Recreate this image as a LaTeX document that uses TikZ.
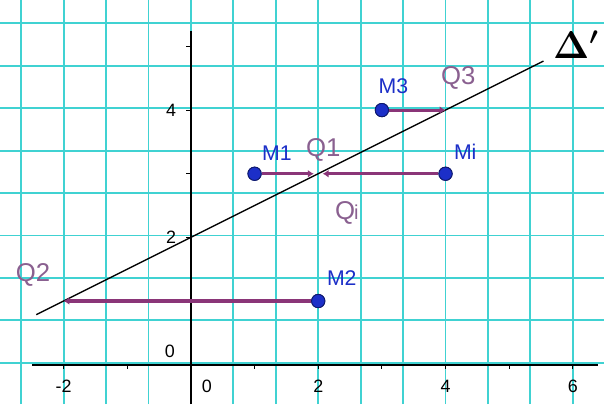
\documentclass[tikz,border=0pt]{standalone}
\usepackage{fontspec}
\setmainfont{Liberation Sans}
\usepackage{tikz}
\usetikzlibrary{arrows.meta}
\definecolor{gridc}{HTML}{40D2D2}
\definecolor{ptblue}{HTML}{1C2FC8}
\definecolor{segc}{HTML}{8A3578}
\definecolor{qlab}{HTML}{8A6090}
\tikzset{
  gridline/.style={draw=gridc, line width=0.85pt},
  axisline/.style={draw=black, line width=0.8pt},
  delta/.style={draw=black, line width=0.6pt},
  proj/.style={draw=segc, line width=1.4pt, -{Latex[length=2.6pt,width=3.4pt]}},
  pt/.style={circle, fill=ptblue, draw=ptblue!55!black, line width=0.4pt, inner sep=2.1pt},
  labm/.style={text=ptblue, font=\fontsize{9.5}{11}\selectfont},
  labq/.style={text=qlab, font=\fontsize{11.5}{13}\selectfont},
  labt/.style={text=black, font=\fontsize{8}{10}\selectfont}
}

\begin{document}
\begin{tikzpicture}
  \useasboundingbox[fill=white] (-3.0,-0.62) rectangle (6.49,5.73);

  % grid every 2/3 unit
  \foreach \k in {-4,...,9}
    \draw[gridline] ({\k*2/3},-0.62) -- ({\k*2/3},5.73);
  \foreach \k in {0,...,8}
    \draw[gridline] (-3.0,{\k*2/3+0.03}) -- (6.49,{\k*2/3+0.03});

  % axes
  \draw[axisline] (-2.5,0) -- (6.4,0);
  \draw[axisline] (0,-0.62) -- (0,5.24);
  \foreach \x in {-2,...,6}
    \draw[axisline, line width=0.5pt] (\x,0) -- (\x,-0.06);
  \foreach \y in {1,...,5}
    \draw[axisline, line width=0.5pt] (0,\y) -- (-0.07,\y);
  \foreach \x in {-2,2,4,6}
    \node[labt] at (\x,-0.34) {\x};
  \node[labt] at (0.25,-0.34) {0};
  \foreach \y in {2,4}
    \node[labt] at (-0.31,\y) {\y};
  \node[labt] at (-0.33,0.21) {0};

  % line Delta'
  \coordinate (D1) at (-2.43,0.785);
  \coordinate (D2) at (5.54,4.77);
  \draw[delta] (D1) -- (D2);
  \node[font=\fontsize{16}{18}\selectfont\boldmath] (dl) at (6.05,5.03) {$\Delta'$};

  % projections on the line
  \coordinate (Q1) at (2,3);
  \coordinate (Q2) at (-2,1);
  \coordinate (Q3) at (4,4);

  \node[pt] (M1) at (1,3) {};
  \node[pt] (Mi) at (4,3) {};
  \node[pt] (M3) at (3,4) {};
  \node[pt] (M2) at (2,1) {};

  \draw[proj] (M1) -- ([xshift=-2pt]Q1);
  \draw[proj] (Mi) -- ([xshift=2pt]Q1);
  \draw[proj] (M3) -- (Q3);
  \draw[proj] (M2) -- (Q2);
  \foreach \p in {M1,Mi,M3,M2}
    \node[pt] at (\p) {};

  \node[labm] at (1.35,3.33) {M1};
  \node[labm] at (4.31,3.35) {Mi};
  \node[labm] at (3.18,4.37) {M3};
  \node[labm] at (2.37,1.36) {M2};

  \node[labq] at (2.08,3.38) {Q1};
  \node[labq] at (4.2,4.51) {Q3};
  \node[labq] at (-2.48,1.41) {Q2};
  \node[labq] at (2.45,2.38) {Q\kern-0.5pt{\fontsize{9}{10}\selectfont i}};
\end{tikzpicture}
\end{document}
